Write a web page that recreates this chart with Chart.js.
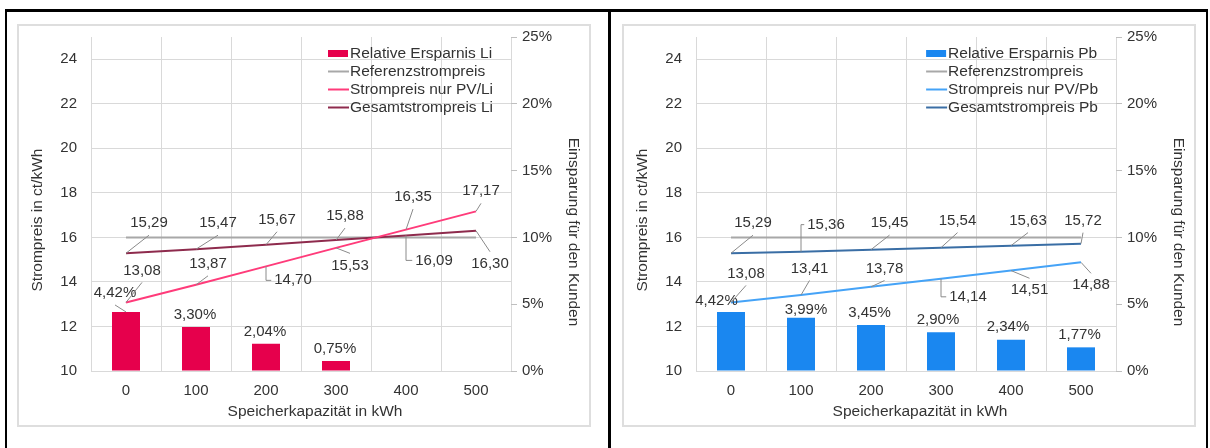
<!DOCTYPE html>
<html lang="de">
<head>
<meta charset="utf-8">
<title>Strompreis und Ersparnis nach Speicherkapazität</title>
<script src="https://cdn.jsdelivr.net/npm/chart.js@4.4.1/dist/chart.umd.min.js"></script>
<style>
  html, body { margin: 0; padding: 0; background: #fff; }
  body { width: 1210px; height: 448px; position: relative; overflow: hidden; }
  .rule { position: absolute; background: #000; }
  .frame { position: absolute; top: 24px; width: 574px; height: 403px; box-sizing: border-box; border: 2px solid #dedede; }
  canvas { position: absolute; top: 26px; }
</style>
</head>
<body>
<div class="rule" style="left:5px; top:9px; width:1203px; height:3px;"></div>
<div class="rule" style="left:5px; top:9px; width:2px; height:439px;"></div>
<div class="rule" style="left:608px; top:9px; width:3px; height:439px;"></div>
<div class="rule" style="left:1206px; top:9px; width:2px; height:439px;"></div>

<div class="frame" style="left:17px;"></div>
<div class="frame" style="left:622px;"></div>
<canvas id="chartLi" width="570" height="399" style="left:19px;"></canvas>
<canvas id="chartPb" width="570" height="399" style="left:624px;"></canvas>

<script>
// ---- Werte ----
const kapazitaet = ['0', '100', '200', '300', '400', '500'];
const preisTicks = [10, 12, 14, 16, 18, 20, 22, 24];
const prozentTicks = [0, 5, 10, 15, 20, 25];

const referenzPreis = [16, 16, 16, 16, 16, 16];

const ersparnisLi = [4.42, 3.30, 2.04, 0.75, null, null];
const pvPreisLi = [13.08, 13.87, 14.70, 15.53, 16.35, 17.17];
const gesamtPreisLi = [15.29, 15.47, 15.67, 15.88, 16.09, 16.30];

const ersparnisPb = [4.42, 3.99, 3.45, 2.90, 2.34, 1.77];
const pvPreisPb = [13.08, 13.41, 13.78, 14.14, 14.51, 14.88];
const gesamtPreisPb = [15.29, 15.36, 15.45, 15.54, 15.63, 15.72];

// ---- Lage der Datenbeschriftungen: [dx, dy, Führungslinie] relativ zum Punkt ----
// 'b' = Linie zur Unterkante, 't' = zur Oberkante, 'e' = Winkel zur linken Kante, 'n' = keine
const lageBalkenLi = [[-11, -19, 'b'], [-1, -12, 'n'], [-1, -12, 'n'], [-1, -12.5, 'n'], null, null];
const lagePvLi = [[16, -32, 'b'], [12, -21, 'b'], [27, 14, 'e'], [14, 17.5, 't'], [7, -32.5, 'b'], [5, -20, 'b']];
const lageGesamtLi = [[23, -30, 'b'], [22, -26, 'b'], [11, -25, 'b'], [9, -24, 'b'], [28, 25, 'e'], [14, 33, 't']];

const lageBalkenPb = [[-14.5, -10.6, 'n'], [5, -7.4, 'n'], [-1.5, -12, 'n'], [-3, -12.8, 'n'], [-3, -12.9, 'n'], [-1.5, -12.2, 'n']];
const lagePvPb = [[15, -29, 'b'], [8.5, -26.6, 'b'], [13.5, -18.3, 'b'], [27, 18, 'e'], [18.5, 19.7, 't'], [10, 23, 't']];
const lageGesamtPb = [[22, -30, 'b'], [25, -27, 'e'], [18.5, -26.5, 'b'], [16.5, -27, 'b'], [17, -25, 'b'], [2, -23, 'b']];

const FONT = '"Liberation Sans", Arial, Helvetica, sans-serif';
const TEXT = '#333333';
const GRID = '#d9d9d9';

const zahl = v => v.toFixed(2).replace('.', ',');
const prozent = v => zahl(v) + '%';

Chart.defaults.font.family = FONT;
Chart.defaults.font.size = 15;
Chart.defaults.color = TEXT;

// Datenbeschriftungen mit Führungslinien
const wertLabels = {
  id: 'wertLabels',
  afterDatasetsDraw(chart, args, opts) {
    const ctx = chart.ctx;
    ctx.save();
    ctx.font = '15px ' + FONT;
    ctx.textAlign = 'center';
    ctx.textBaseline = 'middle';
    chart.data.datasets.forEach((ds, i) => {
      const lage = opts.lage[i];
      if (!lage) return;
      const fmt = opts.format[i];
      const meta = chart.getDatasetMeta(i);
      meta.data.forEach((el, j) => {
        const v = ds.data[j];
        const l = lage[j];
        if (v === null || v === undefined || !l) return;
        const px = el.x, py = el.y;
        const cx = px + l[0], cy = py + l[1];
        const txt = fmt(v);
        const w = ctx.measureText(txt).width;
        ctx.strokeStyle = '#8a8a8a';
        ctx.lineWidth = 1;
        if (l[2] !== 'n') {
          ctx.beginPath();
          ctx.moveTo(px, py);
          if (l[2] === 'b') ctx.lineTo(cx, cy + 12);
          else if (l[2] === 't') ctx.lineTo(cx, cy - 12);
          else if (l[2] === 'e') { ctx.lineTo(px, cy); ctx.lineTo(cx - w / 2 - 3, cy); }
          ctx.stroke();
        }
        ctx.fillStyle = TEXT;
        ctx.fillText(txt, cx, cy);
      });
    });
    ctx.restore();
  }
};

// Legende oben rechts in der Zeichenfläche
const eckLegende = {
  id: 'eckLegende',
  afterDraw(chart) {
    const ctx = chart.ctx, area = chart.chartArea;
    ctx.save();
    ctx.font = '15.5px ' + FONT;
    ctx.textBaseline = 'middle';
    ctx.textAlign = 'left';
    const sets = chart.data.datasets;
    const maxW = Math.max(...sets.map(d => ctx.measureText(d.label).width));
    const tx = area.right - 18 - maxW;
    sets.forEach((d, i) => {
      const y = area.top + 16.5 + i * 18;
      if (d.type === 'bar') {
        ctx.fillStyle = d.backgroundColor;
        ctx.fillRect(tx - 22, y - 3.5, 20, 7);
      } else {
        ctx.strokeStyle = d.borderColor;
        ctx.lineWidth = 2;
        ctx.beginPath();
        ctx.moveTo(tx - 22, y);
        ctx.lineTo(tx - 1, y);
        ctx.stroke();
      }
      ctx.fillStyle = TEXT;
      ctx.fillText(d.label, tx, y + 0.5);
    });
    ctx.restore();
  }
};

// Achsentitel
const achsenTitel = {
  id: 'achsenTitel',
  afterDraw(chart) {
    const ctx = chart.ctx, a = chart.chartArea;
    const mx = (a.left + a.right) / 2, my = (a.top + a.bottom) / 2;
    ctx.save();
    ctx.font = '15.5px ' + FONT;
    ctx.fillStyle = TEXT;
    ctx.textAlign = 'center';
    ctx.textBaseline = 'middle';
    ctx.fillText('Speicherkapazität in kWh', mx + 14, a.bottom + 40.5);
    ctx.save();
    ctx.translate(a.left - 53, my + 16);
    ctx.rotate(-Math.PI / 2);
    ctx.fillText('Strompreis in ct/kWh', 0, 0);
    ctx.restore();
    ctx.save();
    ctx.translate(a.right + 62, my + 28);
    ctx.rotate(Math.PI / 2);
    ctx.fillText('Einsparung für den Kunden', 0, 0);
    ctx.restore();
    ctx.restore();
  }
};

function zeichne(id, s) {
  return new Chart(document.getElementById(id), {
    type: 'bar',
    data: {
      labels: kapazitaet,
      datasets: [
        { type: 'bar', label: s.balkenName, data: s.balken, backgroundColor: s.balkenFarbe,
          yAxisID: 'y1', order: 2, barPercentage: 0.4, categoryPercentage: 1 },
        { type: 'line', label: 'Referenzstrompreis', data: referenzPreis, borderColor: '#a8a8a8',
          borderWidth: 2, pointRadius: 0, tension: 0, yAxisID: 'y', order: 1 },
        { type: 'line', label: s.pvName, data: s.pv, borderColor: s.pvFarbe,
          borderWidth: 2, pointRadius: 0, tension: 0, yAxisID: 'y', order: 0 },
        { type: 'line', label: s.gesamtName, data: s.gesamt, borderColor: s.gesamtFarbe,
          borderWidth: 2, pointRadius: 0, tension: 0, yAxisID: 'y', order: 0 }
      ]
    },
    options: {
      responsive: false,
      animation: false,
      events: [],
      layout: { padding: { top: 11, left: 0, right: 0, bottom: 0 } },
      plugins: {
        legend: { display: false },
        tooltip: { enabled: false },
        wertLabels: {
          lage: [s.lageBalken, null, s.lagePv, s.lageGesamt],
          format: [prozent, null, zahl, zahl]
        }
      },
      scales: {
        x: {
          offset: true,
          grid: { offset: true, color: GRID, lineWidth: 1, drawTicks: false },
          border: { display: false },
          ticks: { padding: 11, color: TEXT, font: { size: 15 } },
          afterFit(sc) { sc.height = 54; }
        },
        y: {
          position: 'left',
          min: 10, max: 25,
          afterBuildTicks(sc) { sc.ticks = preisTicks.map(v => ({ value: v })); },
          ticks: { padding: 14, color: TEXT, font: { size: 15 } },
          grid: { color: GRID, lineWidth: 1, drawTicks: false },
          border: { display: false },
          afterFit(sc) { sc.width = 72; sc.paddingTop = 0; sc.paddingBottom = 0; }
        },
        y1: {
          position: 'right',
          min: 0, max: 25,
          afterBuildTicks(sc) { sc.ticks = prozentTicks.map(v => ({ value: v })); },
          ticks: { padding: 5, color: TEXT, font: { size: 15 }, callback: v => v + '%' },
          grid: { drawOnChartArea: false, drawTicks: true, tickLength: 6, color: '#bfbfbf' },
          border: { display: false },
          afterFit(sc) { sc.width = 78; sc.paddingTop = 0; sc.paddingBottom = 0; }
        }
      }
    },
    plugins: [wertLabels, eckLegende, achsenTitel]
  });
}

zeichne('chartLi', {
  balkenName: 'Relative Ersparnis Li', balken: ersparnisLi, balkenFarbe: '#e6004c',
  pvName: 'Strompreis nur PV/Li', pv: pvPreisLi, pvFarbe: '#ff3b7a',
  gesamtName: 'Gesamtstrompreis Li', gesamt: gesamtPreisLi, gesamtFarbe: '#8e2b4d',
  lageBalken: lageBalkenLi, lagePv: lagePvLi, lageGesamt: lageGesamtLi
});

zeichne('chartPb', {
  balkenName: 'Relative Ersparnis Pb', balken: ersparnisPb, balkenFarbe: '#1a87f0',
  pvName: 'Strompreis nur PV/Pb', pv: pvPreisPb, pvFarbe: '#45a3f7',
  gesamtName: 'Gesamtstrompreis Pb', gesamt: gesamtPreisPb, gesamtFarbe: '#3a6ea5',
  lageBalken: lageBalkenPb, lagePv: lagePvPb, lageGesamt: lageGesamtPb
});
</script>
</body>
</html>
